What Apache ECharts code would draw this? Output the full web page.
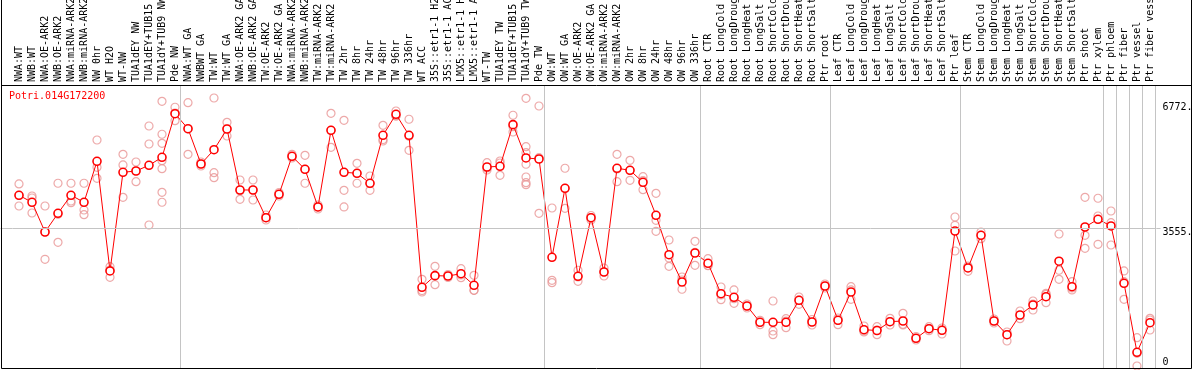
<!DOCTYPE html>
<html>
<head>
<meta charset="utf-8">
<script src="https://cdn.jsdelivr.net/npm/echarts@6/dist/echarts.min.js"></script>
<style>
html,body{margin:0;padding:0;background:#fff;}
#chart{width:1194px;height:370px;}
</style>
</head>
<body>
<div id="chart"></div>
<script>
const categories = [
  'NWA:WT','NWB:WT','NWA:OE-ARK2','NWB:OE-ARK2','NWA:miRNA-ARK2','NWB:miRNA-ARK2','NW 0hr','WT H2O','WT-NW',
  'TUA1dEY NW','TUA1dEY+TUB15 NW','TUA1dY+TUB9 NW','Pde NW',
  'NWA:WT GA','NWBWT GA','TW:WT','TW:WT GA','NWA:OE-ARK2 GA','NWB:OE-ARK2 GA','TW:OE-ARK2','TW:OE-ARK2 GA',
  'NWA:miRNA-ARK2 GA','NWB:miRNA-ARK2 GA','TW:miRNA-ARK2','TW:miRNA-ARK2 GA',
  'TW 2hr','TW 8hr','TW 24hr','TW 48hr','TW 96hr','TW 336hr','WT ACC',
  '35S::etr1-1 H2O','35S::etr1-1 ACC','LMX5::etr1-1 H2O','LMX5::etr1-1 ACC','WT-TW',
  'TUA1dEY TW','TUA1dEY+TUB15 TW','TUA1dY+TUB9 TW','Pde TW',
  'OW:WT','OW:WT GA','OW:OE-ARK2','OW:OE-ARK2 GA','OW:miRNA-ARK2','OW:miRNA-ARK2 GA',
  'OW 2hr','OW 8hr','OW 24hr','OW 48hr','OW 96hr','OW 336hr',
  'Root CTR','Root LongCold','Root LongDrought','Root LongHeat','Root LongSalt',
  'Root ShortCold','Root ShortDrought','Root ShortHeat','Root ShortSalt','Ptr root',
  'Leaf CTR','Leaf LongCold','Leaf LongDrought','Leaf LongHeat','Leaf LongSalt',
  'Leaf ShortCold','Leaf ShortDrought','Leaf ShortHeat','Leaf ShortSalt','Ptr leaf',
  'Stem CTR','Stem LongCold','Stem LongDrought','Stem LongHeat','Stem LongSalt',
  'Stem ShortCold','Stem ShortDrought','Stem ShortHeat','Stem ShortSalt','Ptr shoot',
  'Ptr xylem','Ptr phloem','Ptr fiber','Ptr vessel','Ptr fiber vessel'
];

const means = [
  4396,4216,3451,3932,4396,4216,5271,2448,4988,5021,5168,5374,6496,
  6110,5201,5569,6102,4532,4532,3819,4421,5399,5065,4095,6069,4988,4962,4705,5940,6480,5940,
  2028,2327,2319,2378,2080,5124,5142,6213,5356,5330,
  2800,4576,2311,3819,2422,5091,5039,4730,3881,2867,2164,2911,
  2646,1863,1771,1547,1127,1127,1127,1693,1135,2061,
  1179,1907,937,916,1143,1161,715,963,921,3477,
  2525,3366,1161,808,1315,1572,1786,2700,2043,3580,
  3778,3606,2131,355,1117
];

const replicates = [
  [4687,4396,4120],[4378,4326,3940],[4120,3451,2749],[4705,3907,3186],[4705,4249,4205],
  [4705,4017,3896],[5819,5116,4833],[2558,2473,2285],[5451,5176,4344],[5253,5021,4746],
  [6179,5716,3631],[6815,5966,5734,5286,5080,4473,4216],[6661,6514,6316],
  [6779,6102,5451],[5253,5201,5150],[6900,4977,4849],[6274,6102,5922],[4789,4514,4293],
  [4789,4532,4275],[3889,3819,3760],[4468,4421,4378],[5451,5394,5356],[5425,5065,4705],
  [4146,4095,4043],[6506,6069,5631],[6326,4524,4095],[5219,4962,4705],[4892,4697,4524],
  [6197,5829,5793],[6565,6437,6437],[6352,5914,5554],
  [2234,1943,1907],[2568,2319,2095],[2357,2319,2280],[2507,2345,2275],[2337,1951,1951],
  [5235,5098,5047],[5278,5227,4910],[6455,6161,6025],
  [6892,5646,5492,5194,4867,4720,4669],[6694,5363,3932],
  [4069,2208,2146],[5091,4576,4061],[2466,2293,2182],[3876,3819,3760],[2525,2422,2319],
  [5451,5073,4746],[5296,5039,4782],[4874,4774,4540],[4447,3752,3469],[3245,2782,2568],
  [2293,2216,1977],[3212,2926,2594],
  [2764,2589,2584],[2036,1830,1709],[1959,1735,1616],[1598,1547,1495],[1179,1127,1065],
  [1675,903,808],[1220,1161,988],[1778,1701,1590],[1199,1135,1058],[2113,2061,2010],
  [1238,1179,1065],[2043,1959,1719],[1032,903,878],[1014,929,808],[1230,1143,1058],
  [1359,1076,1058],[762,715,672],[1014,963,911],[981,929,826],[3837,3624,2962],
  [2576,2550,2440],[3451,3366,3279],[1212,1161,1109],[878,808,646],[1418,1302,1220],
  [1675,1598,1444],[1874,1848,1632],[3400,2466,2234],[2172,2010,1959],[4344,3366,3032],
  [4319,3863,3135],[3992,3691,3117],[2448,2172,1719],[731,329,3],[1230,1186,929]
];

// group separators: placed after these category counts
const separatorsAfter = [0, 13, 41, 53, 63, 73, 84, 85, 86, 87, 88];
const yTickValues = [0, 3555, 6772];
const yTickLabels = ['0', '3555.', '6772.'];
const geneTitle = 'Potri.014G172200';

const FONT = 'DejaVu Sans Mono';
const GRAY = '#c4c4c4';
const sepValues = separatorsAfter.map(k => k + 0.5 - 1 / 13);

const repData = [];
replicates.forEach((r, i) => r.forEach(v => repData.push([i, v])));

const chart = echarts.init(document.getElementById('chart'), null, {renderer: 'canvas'});
chart.setOption({
  animation: false,
  backgroundColor: '#fff',
  title: {
    text: geneTitle, left: 9, top: 91, padding: 0,
    textStyle: {color: '#ff0000', fontFamily: FONT, fontSize: 10, fontWeight: 'normal'}
  },
  grid: {left: 12.5, right: 37.5, top: 85, bottom: 2, containLabel: false, outerBoundsMode: 'none'},
  xAxis: [
    {
      type: 'category', data: categories, position: 'top', boundaryGap: true,
      axisLine: {show: false},
      axisTick: {show: false},
      splitLine: {show: false},
      axisLabel: {
        interval: 0, rotate: 90, margin: 3, color: '#000',
        fontFamily: FONT, fontSize: 10, hideOverlap: false
      }
    },
    {
      type: 'value', min: 0.5, max: 88.5, position: 'top',
      axisLine: {show: false},
      axisLabel: {show: false},
      splitLine: {show: false},
      axisTick: {show: true, customValues: sepValues, length: 86, inside: false,
        lineStyle: {color: GRAY, width: 1}}
    }
  ],
  yAxis: [
    {
      type: 'value', min: -49, max: 7234, position: 'right',
      axisLine: {show: false},
      splitLine: {show: false},
      axisTick: {show: true, customValues: [3555], length: 4, lineStyle: {color: GRAY}},
      axisLabel: {
        show: true, customValues: yTickValues, margin: 6, color: '#000',
        fontFamily: FONT, fontSize: 10, verticalAlign: 'middle',
        formatter: function (v) {
          const idx = yTickValues.indexOf(v);
          const t = idx >= 0 ? yTickLabels[idx] : '';
          return v === 0 ? '{lo|' + t + '}' : '{hi|' + t + '}';
        },
        rich: {
          lo: {padding: [0, 0, 8, 0], fontFamily: FONT, fontSize: 10, color: '#000'},
          hi: {padding: [8, 0, 0, 0], fontFamily: FONT, fontSize: 10, color: '#000'}
        }
      }
    },
    {
      type: 'value', min: -49, max: 7234, position: 'left',
      axisLine: {show: false},
      splitLine: {show: false},
      axisLabel: {show: false},
      axisTick: {show: true, customValues: [3555], length: 12, lineStyle: {color: GRAY}}
    }
  ],
  series: [
    {
      type: 'line', xAxisIndex: 1, yAxisIndex: 0, data: [], silent: true,
      markLine: {
        silent: true, symbol: 'none', animation: false,
        label: {show: false},
        lineStyle: {color: GRAY, width: 1, type: 'solid'},
        data: sepValues.map(v => ({xAxis: v})).concat([{yAxis: 3555}])
      }
    },
    {
      type: 'scatter', xAxisIndex: 0, yAxisIndex: 0, data: repData,
      symbol: 'circle', symbolSize: 8,
      itemStyle: {color: 'rgba(0,0,0,0)', borderColor: '#e89494', borderWidth: 1.2},
      z: 3
    },
    {
      type: 'line', xAxisIndex: 0, yAxisIndex: 0, data: means,
      symbol: 'circle', symbolSize: 8, showAllSymbol: true,
      lineStyle: {color: '#ff0000', width: 1},
      itemStyle: {color: '#fff', borderColor: '#ff0000', borderWidth: 1.6},
      z: 4
    }
  ],
  graphic: [
    {type: 'polyline', shape: {points: [[1.5, 0], [1.5, 368.5], [1191.5, 368.5], [1191.5, 0]]},
      style: {stroke: '#000', fill: null, lineWidth: 1}, z: 100},
    {type: 'line', shape: {x1: 1.5, y1: 85.5, x2: 1191.5, y2: 85.5},
      style: {stroke: '#000', lineWidth: 1}, z: 100}
  ]
});
</script>
</body>
</html>
